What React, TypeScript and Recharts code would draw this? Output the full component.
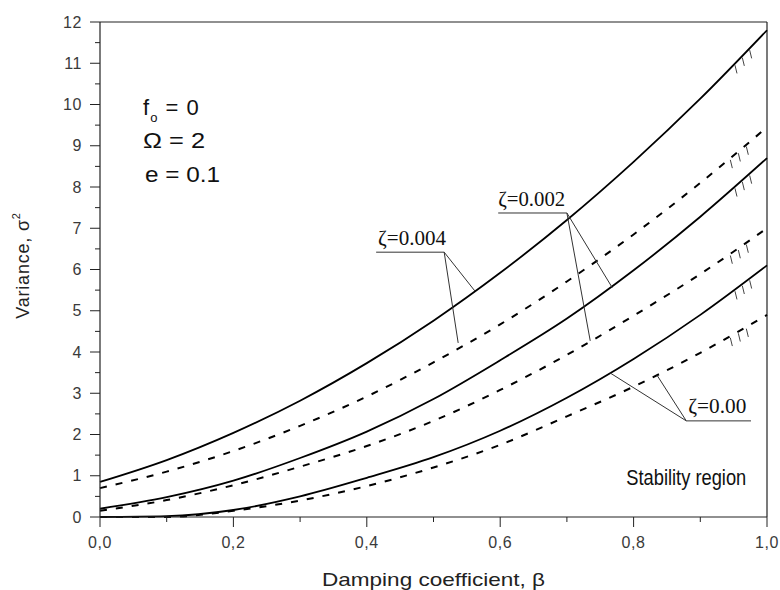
import React from 'react';
import { LineChart, Line, XAxis, YAxis, ReferenceLine, ReferenceDot } from 'recharts';

const beta = [0, 0.1, 0.2, 0.3, 0.4, 0.5, 0.6, 0.7, 0.8, 0.9, 1.0];
const solid004 = [0.85, 1.38, 2.04, 2.82, 3.73, 4.76, 5.92, 7.2, 8.61, 10.14, 11.8];
const dashed004 = [0.7, 1.1, 1.6, 2.21, 2.92, 3.75, 4.67, 5.71, 6.85, 8.1, 9.45];
const solid002 = [0.2, 0.48, 0.88, 1.43, 2.07, 2.86, 3.8, 4.81, 5.98, 7.28, 8.7];
const dashed002 = [0.15, 0.41, 0.77, 1.22, 1.72, 2.33, 3.08, 3.93, 4.88, 5.89, 7.0];
const solid000 = [0, 0.02, 0.17, 0.5, 0.95, 1.45, 2.09, 2.89, 3.83, 4.9, 6.1];
const dashed000 = [0, 0, 0.15, 0.4, 0.75, 1.2, 1.75, 2.44, 3.16, 3.98, 4.9];

const xTicks = [0, 0.1, 0.2, 0.3, 0.4, 0.5, 0.6, 0.7, 0.8, 0.9, 1.0];
const xMajor = [0, 0.2, 0.4, 0.6, 0.8, 1.0];
const xTickLabels = ['0,0', '0,2', '0,4', '0,6', '0,8', '1,0'];
const yTicks = [0, 0.5, 1, 1.5, 2, 2.5, 3, 3.5, 4, 4.5, 5, 5.5, 6, 6.5, 7, 7.5, 8, 8.5, 9, 9.5, 10, 10.5, 11, 11.5, 12];

const hatchSolid = [0.952, 0.963, 0.974];
const hatchDashed = [0.945, 0.957, 0.969];

const data = beta.map((b, i) => ({
  beta: b,
  s4: solid004[i],
  d4: dashed004[i],
  s2: solid002[i],
  d2: dashed002[i],
  s0: solid000[i],
  d0: dashed000[i],
}));

const interp = (arr: number[], b: number) => {
  const i = Math.min(beta.length - 2, Math.floor(b * 10));
  const t = (b - beta[i]) / (beta[i + 1] - beta[i]);
  return arr[i] + (arr[i + 1] - arr[i]) * t;
};

const SANS = '"Liberation Sans", Arial, sans-serif';
const SERIF = '"Liberation Serif", "Times New Roman", serif';
const AXIS = '#222';

const YTick = (props: any) => {
  const { x, y, payload } = props;
  const v = payload.value;
  const major = Math.abs(v - Math.round(v)) < 1e-6;
  return (
    <g>
      <line x1={x - (major ? 10 : 5)} y1={y} x2={x} y2={y} stroke={AXIS} strokeWidth={1} />
      {major && (
        <text x={x - 18} y={y} textAnchor="end" dominantBaseline="central" fontFamily={SANS} fontSize={16} fill="#3a3a3a" letterSpacing={0.6}>
          {String(Math.round(v))}
        </text>
      )}
    </g>
  );
};

const XTick = (props: any) => {
  const { x, y, payload } = props;
  const v = payload.value;
  const idx = xMajor.findIndex((m) => Math.abs(m - v) < 1e-6);
  const major = idx >= 0;
  return (
    <g>
      <line x1={x} y1={y} x2={x} y2={y + (major ? 10 : 5)} stroke={AXIS} strokeWidth={1} />
      {major && (
        <text x={x} y={y + 25} textAnchor="middle" dominantBaseline="central" fontFamily={SANS} fontSize={16} fill="#3a3a3a" letterSpacing={0.6}>
          {xTickLabels[idx]}
        </text>
      )}
    </g>
  );
};

const YTitle = (props: any) => {
  const vb = props.viewBox;
  const x = vb.x + 29;
  const y = vb.y + vb.height / 2 - 4;
  return (
    <text x={x} y={y} transform={`rotate(-90, ${x}, ${y})`} textAnchor="middle" fontFamily={SANS} fontSize={18} fill="#222" letterSpacing={0.8}>
      Variance, σ<tspan dy={-9} fontSize={11}>2</tspan>
    </text>
  );
};

const XTitle = (props: any) => {
  const vb = props.viewBox;
  const x = vb.x + vb.width / 2;
  const y = vb.y + 69;
  return (
    <text x={x} y={y} textAnchor="middle" fontFamily={SANS} fontSize={19} fill="#222" textLength={223} lengthAdjust="spacingAndGlyphs">
      Damping coefficient, β
    </text>
  );
};

const textShape = (content: React.ReactNode, opts: any) => (p: any) => (
  <text x={p.cx} y={p.cy} {...opts}>
    {content}
  </text>
);

const leader = (pts: [number, number][], key: string) =>
  pts.slice(1).map((pt, i) => (
    <ReferenceLine
      key={`${key}-${i}`}
      segment={[
        { x: pts[i][0], y: pts[i][1] },
        { x: pt[0], y: pt[1] },
      ]}
      stroke="#333"
      strokeWidth={1}
      ifOverflow="visible"
    />
  ));

const hatches = (arr: number[], bs: number[], key: string) =>
  bs.map((b, i) => {
    const v = interp(arr, b);
    return (
      <ReferenceLine
        key={`${key}-${i}`}
        segment={[
          { x: b, y: v - 0.05 },
          { x: b + 0.003, y: v - 0.25 },
        ]}
        stroke="#444"
        strokeWidth={1}
        ifOverflow="visible"
      />
    );
  });

export default function App() {
  return (
    <div style={{ position: 'absolute', left: 0, top: 0, background: '#fff' }}>
      <LineChart width={780} height={590} data={data} margin={{ top: 22, right: 13, bottom: 0, left: 0 }}>
        <XAxis
          type="number"
          dataKey="beta"
          domain={[0, 1]}
          ticks={xTicks}
          interval={0}
          tick={<XTick />}
          tickLine={false}
          tickSize={0}
          tickMargin={0}
          height={73}
          axisLine={{ stroke: AXIS, strokeWidth: 1.2 }}
          label={(p: any) => <XTitle {...p} />}
        />
        <YAxis
          type="number"
          domain={[0, 12]}
          ticks={yTicks}
          interval={0}
          tick={<YTick />}
          tickLine={false}
          tickSize={0}
          tickMargin={0}
          width={100}
          axisLine={{ stroke: AXIS, strokeWidth: 1.2 }}
          label={(p: any) => <YTitle {...p} />}
        />
        <ReferenceLine y={12} stroke={AXIS} strokeWidth={1.2} />
        <ReferenceLine x={1} stroke={AXIS} strokeWidth={1.2} />

        <Line type="monotone" dataKey="s4" stroke="#000" strokeWidth={1.8} dot={false} isAnimationActive={false} />
        <Line type="monotone" dataKey="d4" stroke="#000" strokeWidth={2} strokeDasharray="7 9" dot={false} isAnimationActive={false} />
        <Line type="monotone" dataKey="s2" stroke="#000" strokeWidth={1.8} dot={false} isAnimationActive={false} />
        <Line type="monotone" dataKey="d2" stroke="#000" strokeWidth={2} strokeDasharray="7 9" dot={false} isAnimationActive={false} />
        <Line type="monotone" dataKey="s0" stroke="#000" strokeWidth={1.8} dot={false} isAnimationActive={false} />
        <Line type="monotone" dataKey="d0" stroke="#000" strokeWidth={2} strokeDasharray="7 9" dot={false} isAnimationActive={false} />

        {hatches(solid004, hatchSolid, 'h4s')}
        {hatches(dashed004, hatchDashed, 'h4d')}
        {hatches(solid002, hatchSolid, 'h2s')}
        {hatches(dashed002, hatchDashed, 'h2d')}
        {hatches(solid000, hatchSolid, 'h0s')}
        {hatches(dashed000, hatchDashed, 'h0d')}

        {leader([[0.414, 6.42], [0.516, 6.42], [0.562, 5.48]], 'l4a')}
        {leader([[0.516, 6.42], [0.537, 4.22]], 'l4b')}
        {leader([[0.597, 7.37], [0.7, 7.37], [0.768, 5.56]], 'l2a')}
        {leader([[0.7, 7.37], [0.735, 4.27]], 'l2b')}
        {leader([[0.976, 2.33], [0.879, 2.33], [0.765, 3.49]], 'l0a')}
        {leader([[0.879, 2.33], [0.835, 3.44]], 'l0b')}

        <ReferenceDot x={0.417} y={6.6} r={0} ifOverflow="visible"
          shape={textShape('ζ=0.004', { fontFamily: SERIF, fontSize: 21, fill: '#111', textLength: 68, lengthAdjust: 'spacingAndGlyphs' })} />
        <ReferenceDot x={0.597} y={7.55} r={0} ifOverflow="visible"
          shape={textShape('ζ=0.002', { fontFamily: SERIF, fontSize: 21, fill: '#111', textLength: 67, lengthAdjust: 'spacingAndGlyphs' })} />
        <ReferenceDot x={0.882} y={2.52} r={0} ifOverflow="visible"
          shape={textShape('ζ=0.00', { fontFamily: SERIF, fontSize: 21, fill: '#111', textLength: 58, lengthAdjust: 'spacingAndGlyphs' })} />

        <ReferenceDot x={0.0645} y={9.75} r={0} ifOverflow="visible"
          shape={textShape(<>f<tspan dy={7} fontSize={13}>o</tspan><tspan dy={-7}> = 0</tspan></>, { fontFamily: SANS, fontSize: 22, fill: '#111', letterSpacing: 1 })} />
        <ReferenceDot x={0.0645} y={8.95} r={0} ifOverflow="visible"
          shape={textShape('Ω = 2', { fontFamily: SANS, fontSize: 22, fill: '#111', textLength: 62, lengthAdjust: 'spacingAndGlyphs' })} />
        <ReferenceDot x={0.0675} y={8.12} r={0} ifOverflow="visible"
          shape={textShape('e = 0.1', { fontFamily: SANS, fontSize: 22, fill: '#111', textLength: 75, lengthAdjust: 'spacingAndGlyphs' })} />
        <ReferenceDot x={0.789} y={0.776} r={0} ifOverflow="visible"
          shape={textShape('Stability region', { fontFamily: SANS, fontSize: 22, fill: '#111', textLength: 120, lengthAdjust: 'spacingAndGlyphs' })} />
      </LineChart>
    </div>
  );
}
